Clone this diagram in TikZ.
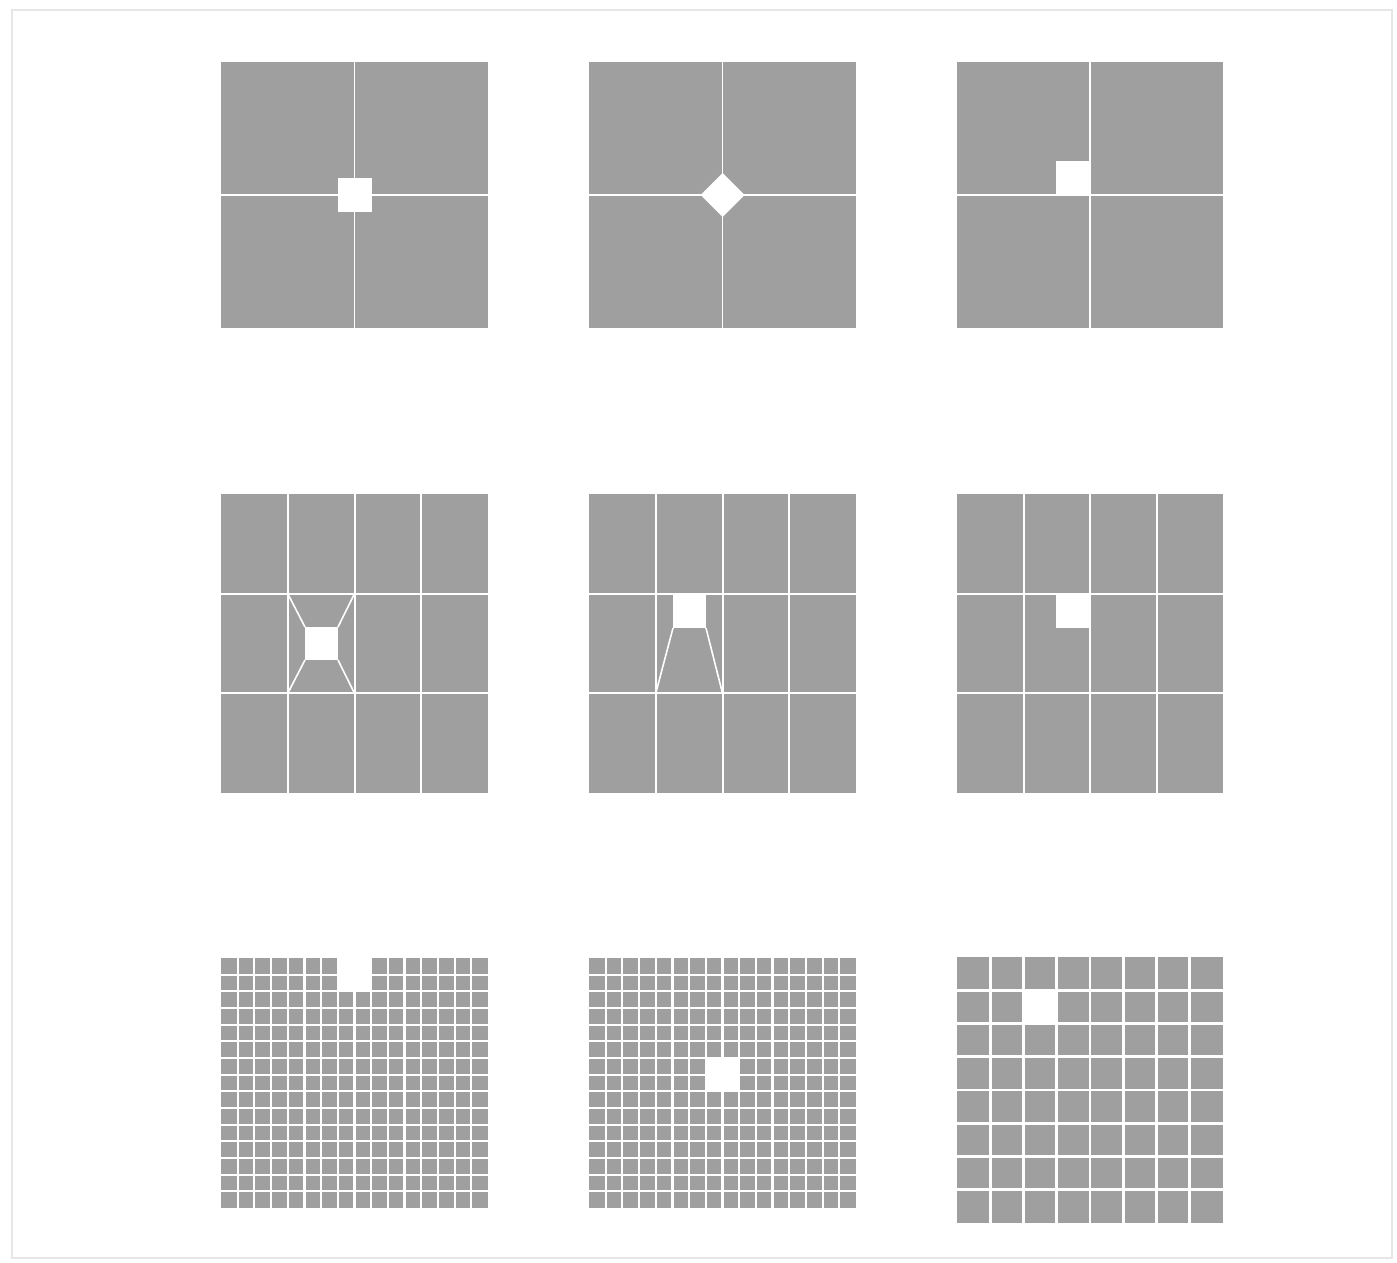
\documentclass[tikz,border=0pt]{standalone}
\definecolor{panelgray}{RGB}{159,159,159}
\definecolor{framegray}{RGB}{230,230,230}
\begin{document}
\begin{tikzpicture}[x=1pt,y=-1pt,
  panel/.style={fill=panelgray},
  seam/.style={draw=white,line width=#1},
  seam/.default=1.5,
  hole/.style={fill=white}]
\useasboundingbox (0,0) rectangle (1397,1263);
\fill[white] (0,0) rectangle (1397,1263);
\draw[framegray,line width=1.5] (12,10) rectangle (1392,1258);

% ---------- Row 1 ----------
% P1: square hole centred on the crossing
\path[panel] (221,62) rectangle (488,328);
\draw[seam] (354.5,62) -- (354.5,328) (221,195) -- (488,195);
\path[hole] (337.5,178) rectangle (371.5,212);
% P2: diamond hole
\path[panel] (589,62) rectangle (856,328);
\draw[seam] (722.5,62) -- (722.5,328) (589,195) -- (856,195);
\path[hole] (700.5,195) -- (722.5,173) -- (744.5,195) -- (722.5,217) -- cycle;
% P3: square hole in upper-left quadrant corner
\path[panel] (957,62) rectangle (1223,328);
\draw[seam] (1090,62) -- (1090,328) (957,195) -- (1223,195);
\path[hole] (1056,161) rectangle (1090,195);

% ---------- Row 2 ----------
% P4
\path[panel] (221,494) rectangle (488,793);
\foreach \i in {1,2,3} \draw[seam=2] ({221+66.75*\i},494) -- ++(0,299);
\foreach \j in {1,2} \draw[seam=2] (221,{494+299/3*\j}) -- ++(267,0);
\path[hole] (305,627) rectangle (338,660);
\draw[seam=1.6] (287.75,593.67) -- (305,627)
                (354.5,593.67) -- (338,627)
                (305,660) -- (287.75,693.33)
                (338,660) -- (354.5,693.33);
% P5
\path[panel] (589,494) rectangle (856,793);
\foreach \i in {1,2,3} \draw[seam=2] ({589+66.75*\i},494) -- ++(0,299);
\foreach \j in {1,2} \draw[seam=2] (589,{494+299/3*\j}) -- ++(267,0);
\path[hole] (673,593.67) rectangle (706,628);
\draw[seam=1.6] (673,628) -- (655.75,693.33)
                (706,628) -- (722.5,693.33);
% P6
\path[panel] (957,494) rectangle (1223,793);
\foreach \i in {1,2,3} \draw[seam=2] ({957+66.5*\i},494) -- ++(0,299);
\foreach \j in {1,2} \draw[seam=2] (957,{494+299/3*\j}) -- ++(266,0);
\path[hole] (1056,593.67) rectangle (1090,628);

% ---------- Row 3 ----------
% P7: fine grid with notch at the top
\path[panel] (221,958) rectangle (488,1208);
\foreach \i in {1,...,15} \draw[seam=2.2] ({221+16.6875*\i},958) -- ++(0,250);
\foreach \j in {1,...,14} \draw[seam=2.2] (221,{958+250/15*\j}) -- ++(267,0);
\path[hole] (337.8,956) rectangle (371.2,991.3);
% P8: fine grid with interior hole
\path[panel] (589,958) rectangle (856,1208);
\foreach \i in {1,...,15} \draw[seam=2.2] ({589+16.6875*\i},958) -- ++(0,250);
\foreach \j in {1,...,14} \draw[seam=2.2] (589,{958+250/15*\j}) -- ++(267,0);
\path[hole] (705.8,1058) rectangle (739.2,1091.3);
% P9: 8x8 grid with one missing cell
\path[panel] (957,957) rectangle (1223,1223);
\foreach \i in {1,...,7} \draw[seam=2.6] ({957+33.25*\i},957) -- ++(0,266);
\foreach \j in {1,...,7} \draw[seam=2.6] (957,{957+33.25*\j}) -- ++(266,0);
\path[hole] (1023.5,990.25) rectangle (1056.75,1023.5);
\end{tikzpicture}
\end{document}
